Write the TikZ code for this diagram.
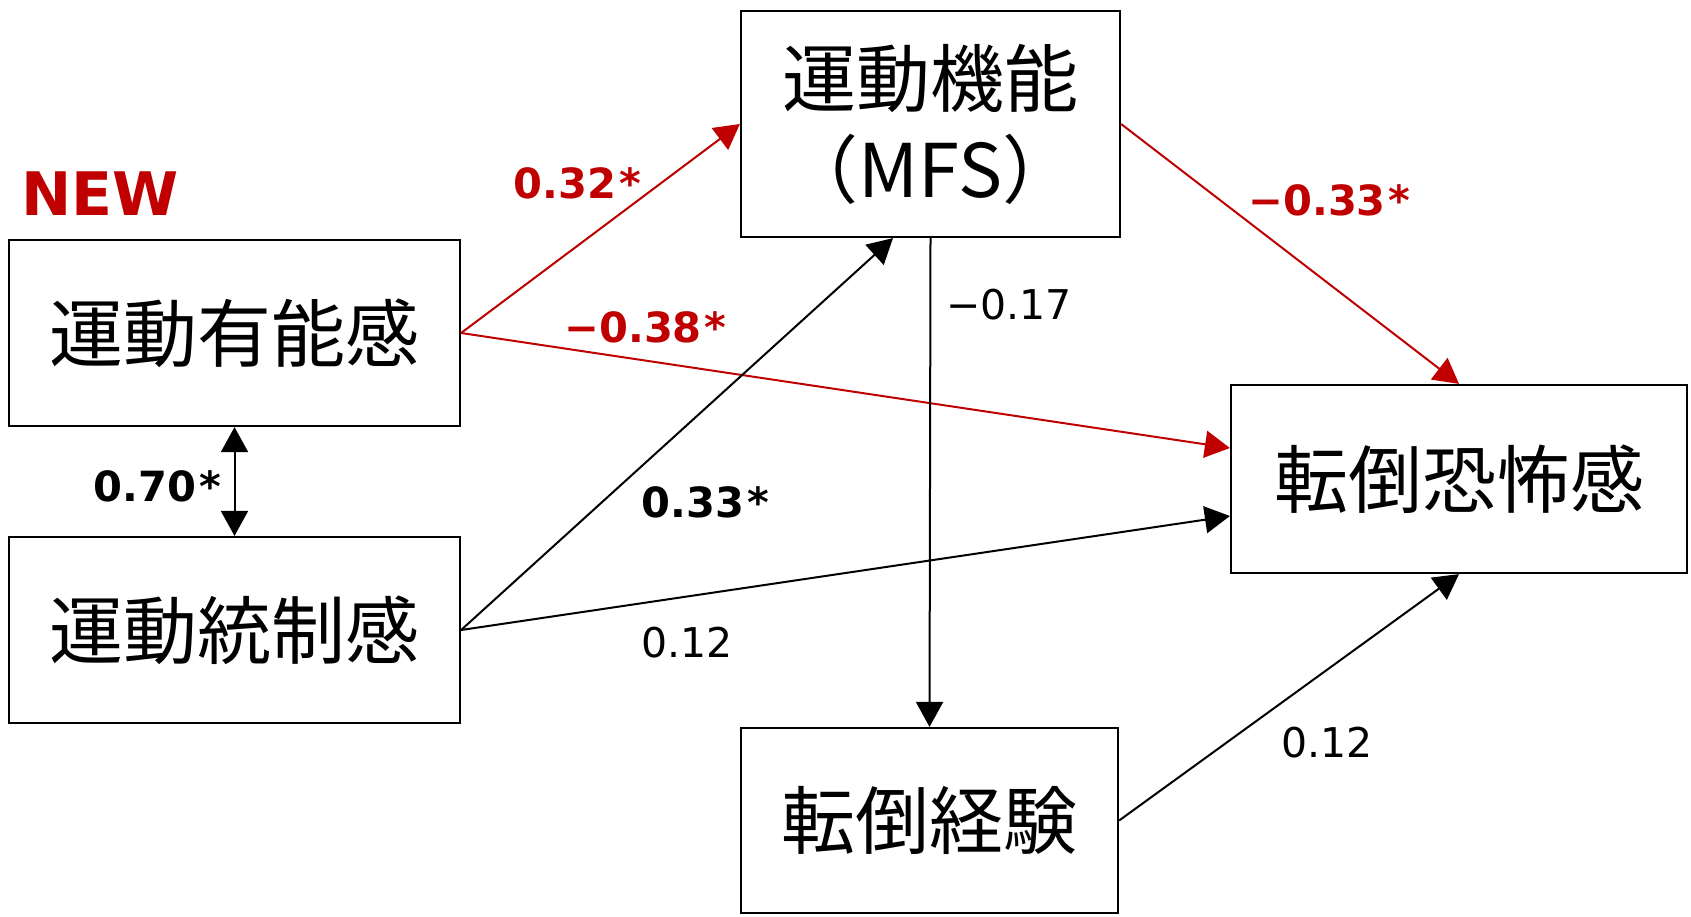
\documentclass[tikz,border=0pt]{standalone}
\usepackage{fontspec}
\newfontfamily\jpfont{Noto Sans CJK JP}
\newfontfamily\labfont{DejaVu Sans}
\usetikzlibrary{arrows.meta}
\definecolor{darkred}{HTML}{C00000}
\newcommand{\sigstar}{\kern1.5pt*}
\begin{document}
\begin{tikzpicture}[x=0.5pt,y=-0.5pt,
  box/.style={draw=black,line width=1.1pt,inner sep=0pt,align=center,
    font=\jpfont\fontsize{37}{45.5}\selectfont},
  conn/.style={line width=1pt,-{Triangle[length=12.5pt,width=13.5pt]}},
  redconn/.style={conn,draw=darkred},
  lab/.style={anchor=base west,inner sep=0pt,font=\labfont\fontsize{20.5}{24}\selectfont},
  blab/.style={anchor=base west,inner sep=0pt,font=\labfont\bfseries\fontsize{20.8}{24}\selectfont},
]
\useasboundingbox (0,0) rectangle (1691,916);
\node[box,minimum width=225.5pt,minimum height=93pt] (comp) at (234.5,333) {運動有能感};
\node[box,minimum width=225.5pt,minimum height=93pt] (ctrl) at (234.5,630) {運動統制感};
\node[box,minimum width=189.5pt,minimum height=113pt] (mfs) at (930.5,124) {運動機能\\（MFS）};
\node[box,minimum width=228pt,minimum height=94pt] (fear) at (1459,479) {転倒恐怖感};
\node[box,minimum width=188.5pt,minimum height=92.5pt] (fall) at (929.5,820.5) {転倒経験};

\draw[redconn] (comp.east) -- (mfs.west);
\draw[redconn] (comp.east) -- ([yshift=15.5pt]fear.west);
\draw[conn] (ctrl.east) -- ([xshift=-18.75pt]mfs.south);
\draw[conn] (ctrl.east) -- ([yshift=-18.5pt]fear.west);
\draw[redconn] (mfs.east) -- (fear.north);
\draw[conn] (mfs.south) -- (fall.north);
\draw[conn] (fall.east) -- (fear.south);
\draw[line width=1pt,{Triangle[length=12.5pt,width=13.5pt]}-{Triangle[length=12.5pt,width=13.5pt]}] (comp.south) -- (ctrl.north);

\node[anchor=base west,inner sep=0pt,text=darkred,font=\labfont\bfseries\fontsize{30}{36}\selectfont] (new) at (21,215) {NEW};
\node[blab,text=darkred] (l1) at (513,198) {0.32\sigstar};
\node[blab,text=darkred] (l2) at (564,342) {−0.38\sigstar};
\node[blab] (l3) at (641,517) {0.33\sigstar};
\node[blab,text=darkred] (l4) at (1248,215) {−0.33\sigstar};
\node[blab] (l5) at (93,501.6) {0.70\sigstar};
\node[lab] (l6) at (946,319) {−0.17};
\node[lab] (l7) at (641,657) {0.12};
\node[lab] (l8) at (1281,757) {0.12};
\end{tikzpicture}
\end{document}
